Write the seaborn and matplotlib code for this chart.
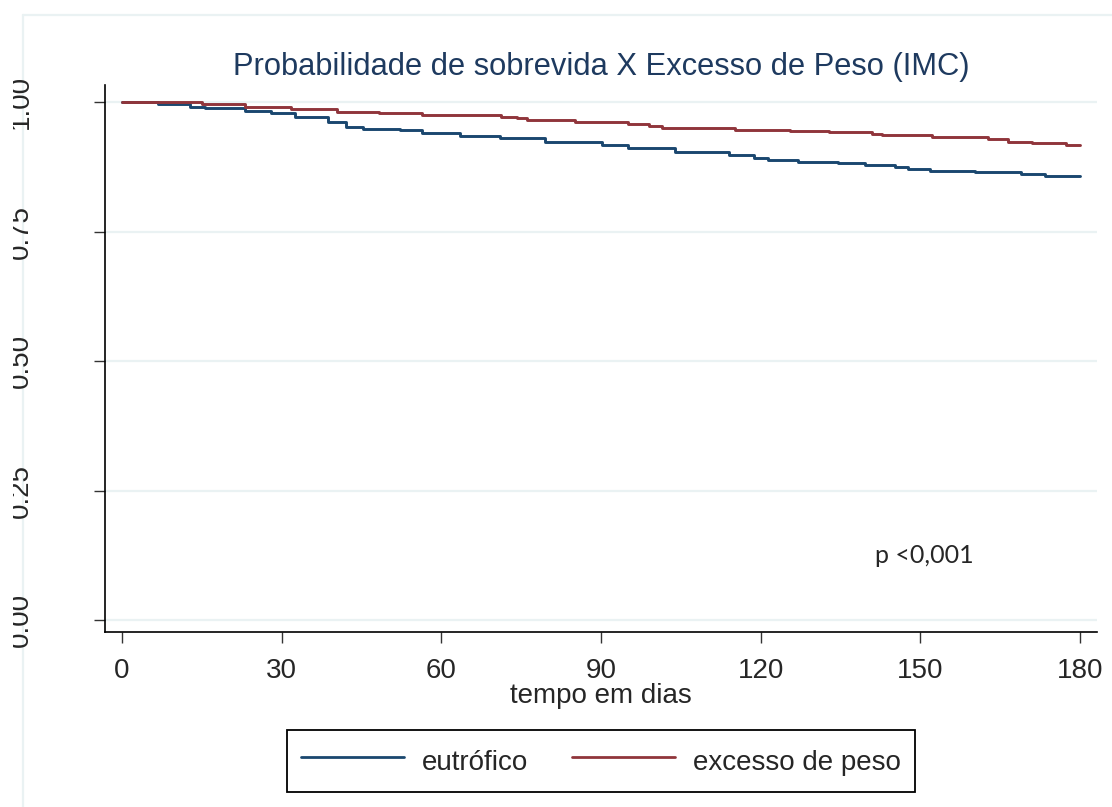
import pandas as pd
import matplotlib.pyplot as plt
import seaborn as sns
from matplotlib.lines import Line2D
from matplotlib.patches import Rectangle

# Kaplan-Meier steps (day, survival)
eutrofico_dias = [0, 6.8, 12.8, 15.6, 23.1, 28.0, 32.5, 38.7, 42.1, 45.3, 52.2, 56.4,
                  63.5, 71.0, 79.5, 90.2, 95.1, 103.9, 114.1, 118.8, 121.4, 127.0,
                  134.5, 139.6, 145.2, 147.7, 151.8, 160.3, 168.9, 173.4, 180]
eutrofico_surv = [1.000, 0.996, 0.991, 0.988, 0.983, 0.978, 0.972, 0.962, 0.952, 0.949,
                  0.946, 0.940, 0.934, 0.930, 0.922, 0.917, 0.911, 0.904, 0.898, 0.893,
                  0.889, 0.884, 0.882, 0.878, 0.874, 0.871, 0.867, 0.865, 0.861, 0.857,
                  0.857]

excesso_dias = [0, 15.0, 23.1, 31.8, 40.4, 48.3, 56.4, 62.0, 71.2, 74.2, 76.1, 85.1,
                95.1, 99.0, 101.5, 115.2, 125.5, 132.8, 140.9, 142.8, 152.2, 162.7,
                166.5, 171.0, 177.4, 180]
excesso_surv = [1.000, 0.996, 0.991, 0.986, 0.980, 0.978, 0.976, 0.975, 0.972, 0.969,
                0.965, 0.962, 0.958, 0.954, 0.950, 0.946, 0.945, 0.943, 0.938, 0.936,
                0.933, 0.928, 0.923, 0.921, 0.918, 0.918]

grupos = ['eutrófico', 'excesso de peso']
cores = ['#1a476f', '#90353b']
x_ticks = [0, 30, 60, 90, 120, 150, 180]
y_ticks = [0.00, 0.25, 0.50, 0.75, 1.00]

df = pd.concat([
    pd.DataFrame({'dias': eutrofico_dias, 'surv': eutrofico_surv, 'grupo': grupos[0]}),
    pd.DataFrame({'dias': excesso_dias, 'surv': excesso_surv, 'grupo': grupos[1]}),
])

sns.set_theme(style='white')
plt.rcParams['font.family'] = ['Liberation Sans', 'DejaVu Sans']

fig = plt.figure(figsize=(11.12, 8.07), dpi=100)
ax = fig.add_axes([105 / 1112, 1 - 632 / 807, 992 / 1112, 547 / 807])

# light grid lines
for yv in y_ticks:
    ax.axhline(yv, color='#eaf2f3', lw=1.6, zorder=0)

sns.lineplot(data=df, x='dias', y='surv', hue='grupo', palette=cores,
             estimator=None, drawstyle='steps-post', linewidth=2.1,
             legend=False, ax=ax)

ax.set_xlim(-3.2, 183.2)
ax.set_ylim(-0.023, 1.033)
ax.set_xticks(x_ticks)
ax.set_yticks(y_ticks)
ax.set_xticklabels([str(v) for v in x_ticks], fontsize=20)
ax.set_yticklabels(['%.2f' % v for v in y_ticks], fontsize=20, rotation=90,
                   va='center')
ax.tick_params(axis='both', direction='out', length=8, width=1, color='#333333',
               bottom=True, left=True)
ax.tick_params(axis='x', pad=11)
ax.tick_params(axis='y', pad=43)

for s in ['top', 'right']:
    ax.spines[s].set_visible(False)
for s in ['left', 'bottom']:
    ax.spines[s].set_color('black')
    ax.spines[s].set_linewidth(1.2)

ax.set_xlabel('tempo em dias', fontsize=20)
ax.xaxis.set_label_coords(0.5, -0.093)
ax.set_ylabel('')
ax.set_title('Probabilidade de sobrevida X Excesso de Peso (IMC)', fontsize=22.2,
             color='#1e3a5f', pad=7)

ax.text(141.5, 0.125, 'p <0,001', fontsize=18, ha='left', va='center',
        family=['Lato', 'DejaVu Sans'])

handles = [Line2D([0], [0], color=c, lw=2) for c in cores]
leg = fig.legend(handles, grupos, loc='center', bbox_to_anchor=(601 / 1112, 1 - 761 / 807),
                 ncol=2, fontsize=20, frameon=True, fancybox=False, framealpha=1,
                 edgecolor='black', handlelength=3.7, handletextpad=0.65,
                 columnspacing=1.6, borderpad=0.5, handleheight=1.5)
leg.get_frame().set_linewidth(1.3)

# outer graph region frame
fig.add_artist(Line2D([23 / 1112, 23 / 1112], [0, 1 - 15 / 807],
                      transform=fig.transFigure, color='#eaf2f3', lw=1.6, zorder=-1))
fig.add_artist(Line2D([23 / 1112, 1], [1 - 15 / 807, 1 - 15 / 807],
                      transform=fig.transFigure, color='#eaf2f3', lw=1.6, zorder=-1))
# left margin crops the rotated tick labels
fig.add_artist(Rectangle((0, 0), 13 / 1112, 1, transform=fig.transFigure,
                         facecolor='white', edgecolor='none', zorder=10))

plt.savefig('out.png', dpi=100)
